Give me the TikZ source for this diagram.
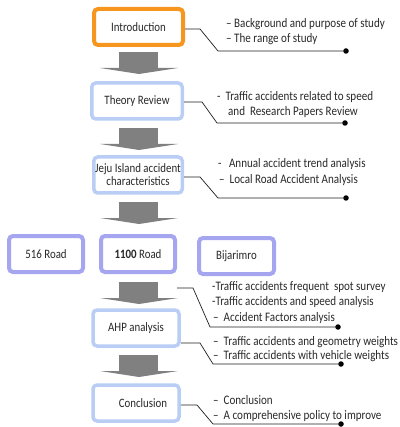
\documentclass[tikz,border=0pt]{standalone}
\usepackage{fontspec}
\setmainfont{Carlito}[FakeStretch=0.85]
\definecolor{orangeb}{RGB}{247,150,30}
\definecolor{blueb}{RGB}{185,205,245}
\definecolor{lavb}{RGB}{165,165,240}
\definecolor{arrowgray}{RGB}{128,128,128}
\definecolor{txt}{RGB}{40,40,40}
\definecolor{linec}{RGB}{30,30,30}
\tikzset{
  box/.style={draw, rounded corners=4pt, fill=white, minimum width=#1, minimum height=36pt, inner sep=0pt, font=\fontsize{12.8}{14}\selectfont, text=txt, align=center},
  introbox/.style={box=89pt, draw=orangeb, line width=4pt},
  bluebox/.style={box=#1, draw=blueb, line width=3.5pt},
  roadbox/.style={box=74pt, draw=lavb, line width=4pt},
  conn/.style={draw=linec, line width=0.7pt},
  dotend/.style={circle, fill=black, inner sep=0pt, minimum size=5.5pt},
  note/.style={anchor=base west, inner sep=0pt, font=\fontsize{13}{15}\selectfont, text=txt},
  blockarrowfill/.style={fill=arrowgray}
}
\newcommand\downblockarrow[1]{%
  \fill[blockarrowfill] (119,#1) rectangle (158,#1+16.5);
  \fill[blockarrowfill] (100,#1+16) -- (178,#1+16) -- (139,#1+22) -- cycle;
}
\begin{document}
\begin{tikzpicture}[x=1pt,y=-1pt]
\useasboundingbox (0,0) rectangle (399,427);

% boxes
\node[introbox] (intro) at (138.5,27) {Introduction};
\node[bluebox=90.5pt] (theory) at (137,101) {Theory Review};
\node[bluebox=88.5pt, align=center] (jeju) at (138,175) {Jeju Island accident\\[-1pt]characteristics};
\node[roadbox] (r516) at (46,254) {516 Road};
\node[roadbox] (r1100) at (138,254) {\textbf{1100} Road};
\node[roadbox, minimum width=75pt] (bija) at (236.5,256) {Bijarimro};
\node[bluebox=86pt] (ahp) at (136,328) {AHP analysis};
\node[bluebox=86pt] (concl) at (136,403) {\hspace*{14pt}Conclusion};

% block arrows
\downblockarrow{52}
\downblockarrow{128}
\downblockarrow{202}
\downblockarrow{282}
\downblockarrow{355}

% connectors
\node[dotend] (d1) at (346,51) {};
\coordinate (k1a) at (200,29);
\coordinate (k1b) at (218,51);
\draw[conn] ([yshift=-2pt]intro.east) -- (k1a) -- (k1b) -- (d1.center);

\node[dotend] (d2) at (345,123) {};
\coordinate (k2a) at (202,102);
\coordinate (k2b) at (217,123);
\draw[conn] ([yshift=-1pt]theory.east) -- (k2a) -- (k2b) -- (d2.center);

\node[dotend] (d3) at (346,198) {};
\coordinate (k3a) at (200,177);
\coordinate (k3b) at (218,198);
\draw[conn] ([yshift=-2pt]jeju.east) -- (k3a) -- (k3b) -- (d3.center);

\node[dotend] (d4) at (338,327) {};
\coordinate (s4) at (177,288);
\coordinate (k4a) at (193,288);
\coordinate (k4b) at (210,327);
\draw[conn] (s4) -- (k4a) -- (k4b) -- (d4.center);

\node[dotend] (d5) at (341,364) {};
\coordinate (k5a) at (200,343);
\coordinate (k5b) at (213,364);
\draw[conn] ([yshift=-15pt]ahp.east) -- (k5a) -- (k5b) -- (d5.center);

\node[dotend] (d6) at (341,424) {};
\coordinate (k6a) at (197,405);
\coordinate (k6b) at (213,424);
\draw[conn] ([yshift=-2pt]concl.east) -- (k6a) -- (k6b) -- (d6.center);

% notes
\node[note] (n1a) at (226,28) {–\ Background and purpose of study};
\node[note] (n1b) at (226,43) {–\ The range of study};
\node[note] (n2a) at (217,101) {-\ \ Traffic accidents related to speed};
\node[note] (n2b) at (228,116) {and\ \ Research Papers Review};
\node[note] (n3a) at (218,168) {-\ \ \ Annual accident trend analysis};
\node[note] (n3b) at (219,184) {–\ \ Local Road Accident Analysis};
\node[note] (n4a) at (212,290) {-Traffic accidents frequent\ \ spot survey};
\node[note] (n4b) at (212,305) {-Traffic accidents and speed analysis};
\node[note] (n4c) at (213,321) {–\ \ Accident Factors analysis};
\node[note] (n5a) at (213,345) {–\ \ Traffic accidents and geometry weights};
\node[note] (n5b) at (213,359) {–\ \ Traffic accidents with vehicle weights};
\node[note] (n6a) at (213,404) {–\ \ Conclusion};
\node[note] (n6b) at (213,419) {–\ \ A comprehensive policy to improve};
\end{tikzpicture}
\end{document}
